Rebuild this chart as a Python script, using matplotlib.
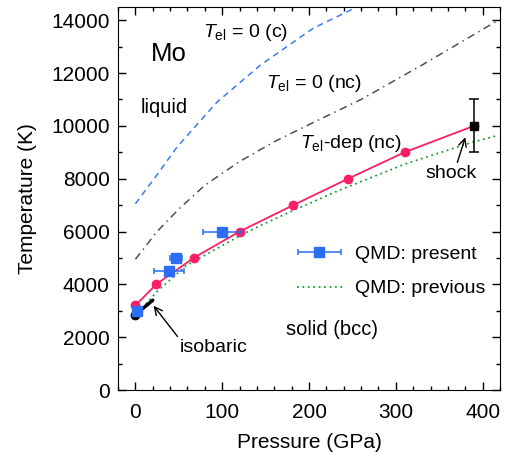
import matplotlib.pyplot as plt
from matplotlib.container import ErrorbarContainer
from matplotlib.legend_handler import HandlerErrorbar

plt.rcParams['font.family'] = 'Liberation Sans'
plt.rcParams['mathtext.fontset'] = 'custom'
plt.rcParams['mathtext.rm'] = 'Liberation Sans'
plt.rcParams['mathtext.it'] = 'Liberation Sans:italic'

# =====================================================
# DATA
# =====================================================

# T_el-dependent (nc) melting curve
tdep_p = [0, 24, 67, 120, 182, 245, 310, 390]
tdep_t = [3200, 4000, 5000, 6000, 7000, 8000, 9000, 10000]

# QMD present (with pressure error bars)
qmd_p = [2, 39, 47, 100]
qmd_t = [3000, 4500, 5000, 6000]
qmd_perr = [3, 17, 7, 22]

# QMD previous
prev_p = [12, 24, 58, 121, 146, 182, 234, 311, 388, 418]
prev_t = [3250, 3700, 4700, 5850, 6260, 6800, 7550, 8560, 9380, 9640]

# T_el = 0 (c)
c_p = [0, 25, 48, 94, 144, 205, 252]
c_t = [7050, 8150, 9200, 10900, 12300, 13700, 14450]

# T_el = 0 (nc)
nc_p = [0, 25, 50, 80, 120, 160, 200, 260, 330, 418]
nc_t = [4950, 6000, 6850, 7750, 8650, 9400, 10050, 11000, 12300, 14000]

# shock point
shock_p = [390]
shock_t = [10000]
shock_err = [1000]

# isobaric measurement
iso_p = [0, 20]
iso_t = [2850, 3400]

# =====================================================
# PLOT
# =====================================================

fig = plt.figure(figsize=(5.1, 4.59), dpi=100)
ax = fig.add_axes([0.2314, 0.1503, 0.7490, 0.8344])

ax.plot(c_p, c_t, color='#3a7cf2', lw=1.1, ls=(0, (4, 3)))
ax.plot(nc_p, nc_t, color='#5b4c48', lw=1.1, ls=(0, (5, 3, 1, 3)))
ax.plot(prev_p, prev_t, color='#1f9a2e', lw=1.3, ls=(0, (1, 2)),
        label='QMD: previous')
ax.plot(tdep_p, tdep_t, color='#fa1e64', lw=1.3, marker='o', ms=6)

ax.plot(iso_p, iso_t, color='black', lw=2.5, solid_capstyle='round')
ax.plot([iso_p[0]], [iso_t[0]], 'o', color='black', ms=6)

ax.errorbar(qmd_p, qmd_t, xerr=qmd_perr, fmt='s', color='#2b6ef4',
            ms=6.5, lw=1.1, capsize=2.5, capthick=1.1,
            label='QMD: present')

ax.errorbar(shock_p, shock_t, yerr=shock_err, fmt='s', color='black',
            ms=6, lw=1.1, capsize=3.5, capthick=1.1)

# =====================================================
# TEXT
# =====================================================

ax.text(39, 12730, 'Mo', fontsize=18.5, ha='center', va='center')
ax.text(33, 10710, 'liquid', fontsize=14.5, ha='center', va='center')
ax.text(127, 13550, r'$T_{\rm el}$ = 0 (c)', fontsize=14,
        ha='center', va='center')
ax.text(206, 11590, r'$T_{\rm el}$ = 0 (nc)', fontsize=14,
        ha='center', va='center')
ax.text(248, 9320, r'$T_{\rm el}$-dep (nc)', fontsize=14,
        ha='center', va='center')
ax.text(227, 2300, 'solid (bcc)', fontsize=14.5, ha='center', va='center')

ax.annotate('isobaric', xy=(21, 3190), xytext=(51, 1600), fontsize=14,
            ha='left', va='center',
            arrowprops=dict(arrowstyle='->', color='black', lw=1,
                            shrinkA=0, shrinkB=0, relpos=(0.0, 1.0)))
ax.annotate('shock', xy=(380, 9570), xytext=(364, 8190), fontsize=14,
            ha='center', va='center',
            arrowprops=dict(arrowstyle='->', color='black', lw=1,
                            shrinkA=0, shrinkB=0, relpos=(0.6, 1.0)))

handles, labels = ax.get_legend_handles_labels()
ax.legend(handles[::-1], labels[::-1], loc='upper left',
          bbox_to_anchor=(0.468, 0.377), frameon=False, fontsize=14,
          handlelength=2.3, handletextpad=0.7, labelspacing=0.85,
          borderpad=0, borderaxespad=0,
          handler_map={ErrorbarContainer: HandlerErrorbar(xerr_size=1.1)})

# =====================================================
# AXES
# =====================================================

ax.set_xlim(-20, 420)
ax.set_ylim(0, 14500)
ax.set_xticks([0, 100, 200, 300, 400])
ax.set_xticks(range(-20, 421, 20), minor=True)
ax.set_yticks(range(0, 14001, 2000))
ax.set_yticks(range(0, 14001, 1000), minor=True)
ax.tick_params(which='both', direction='in', top=True, right=True,
               labelsize=15, width=1)
ax.tick_params(which='major', length=6)
ax.tick_params(which='minor', length=3)
ax.tick_params(axis='x', which='major', pad=9)
ax.tick_params(axis='y', which='major', pad=6)

ax.set_xlabel('Pressure (GPa)', fontsize=15, labelpad=8)
ax.set_ylabel('Temperature (K)', fontsize=15, labelpad=10)

plt.savefig('out.png', dpi=100)
